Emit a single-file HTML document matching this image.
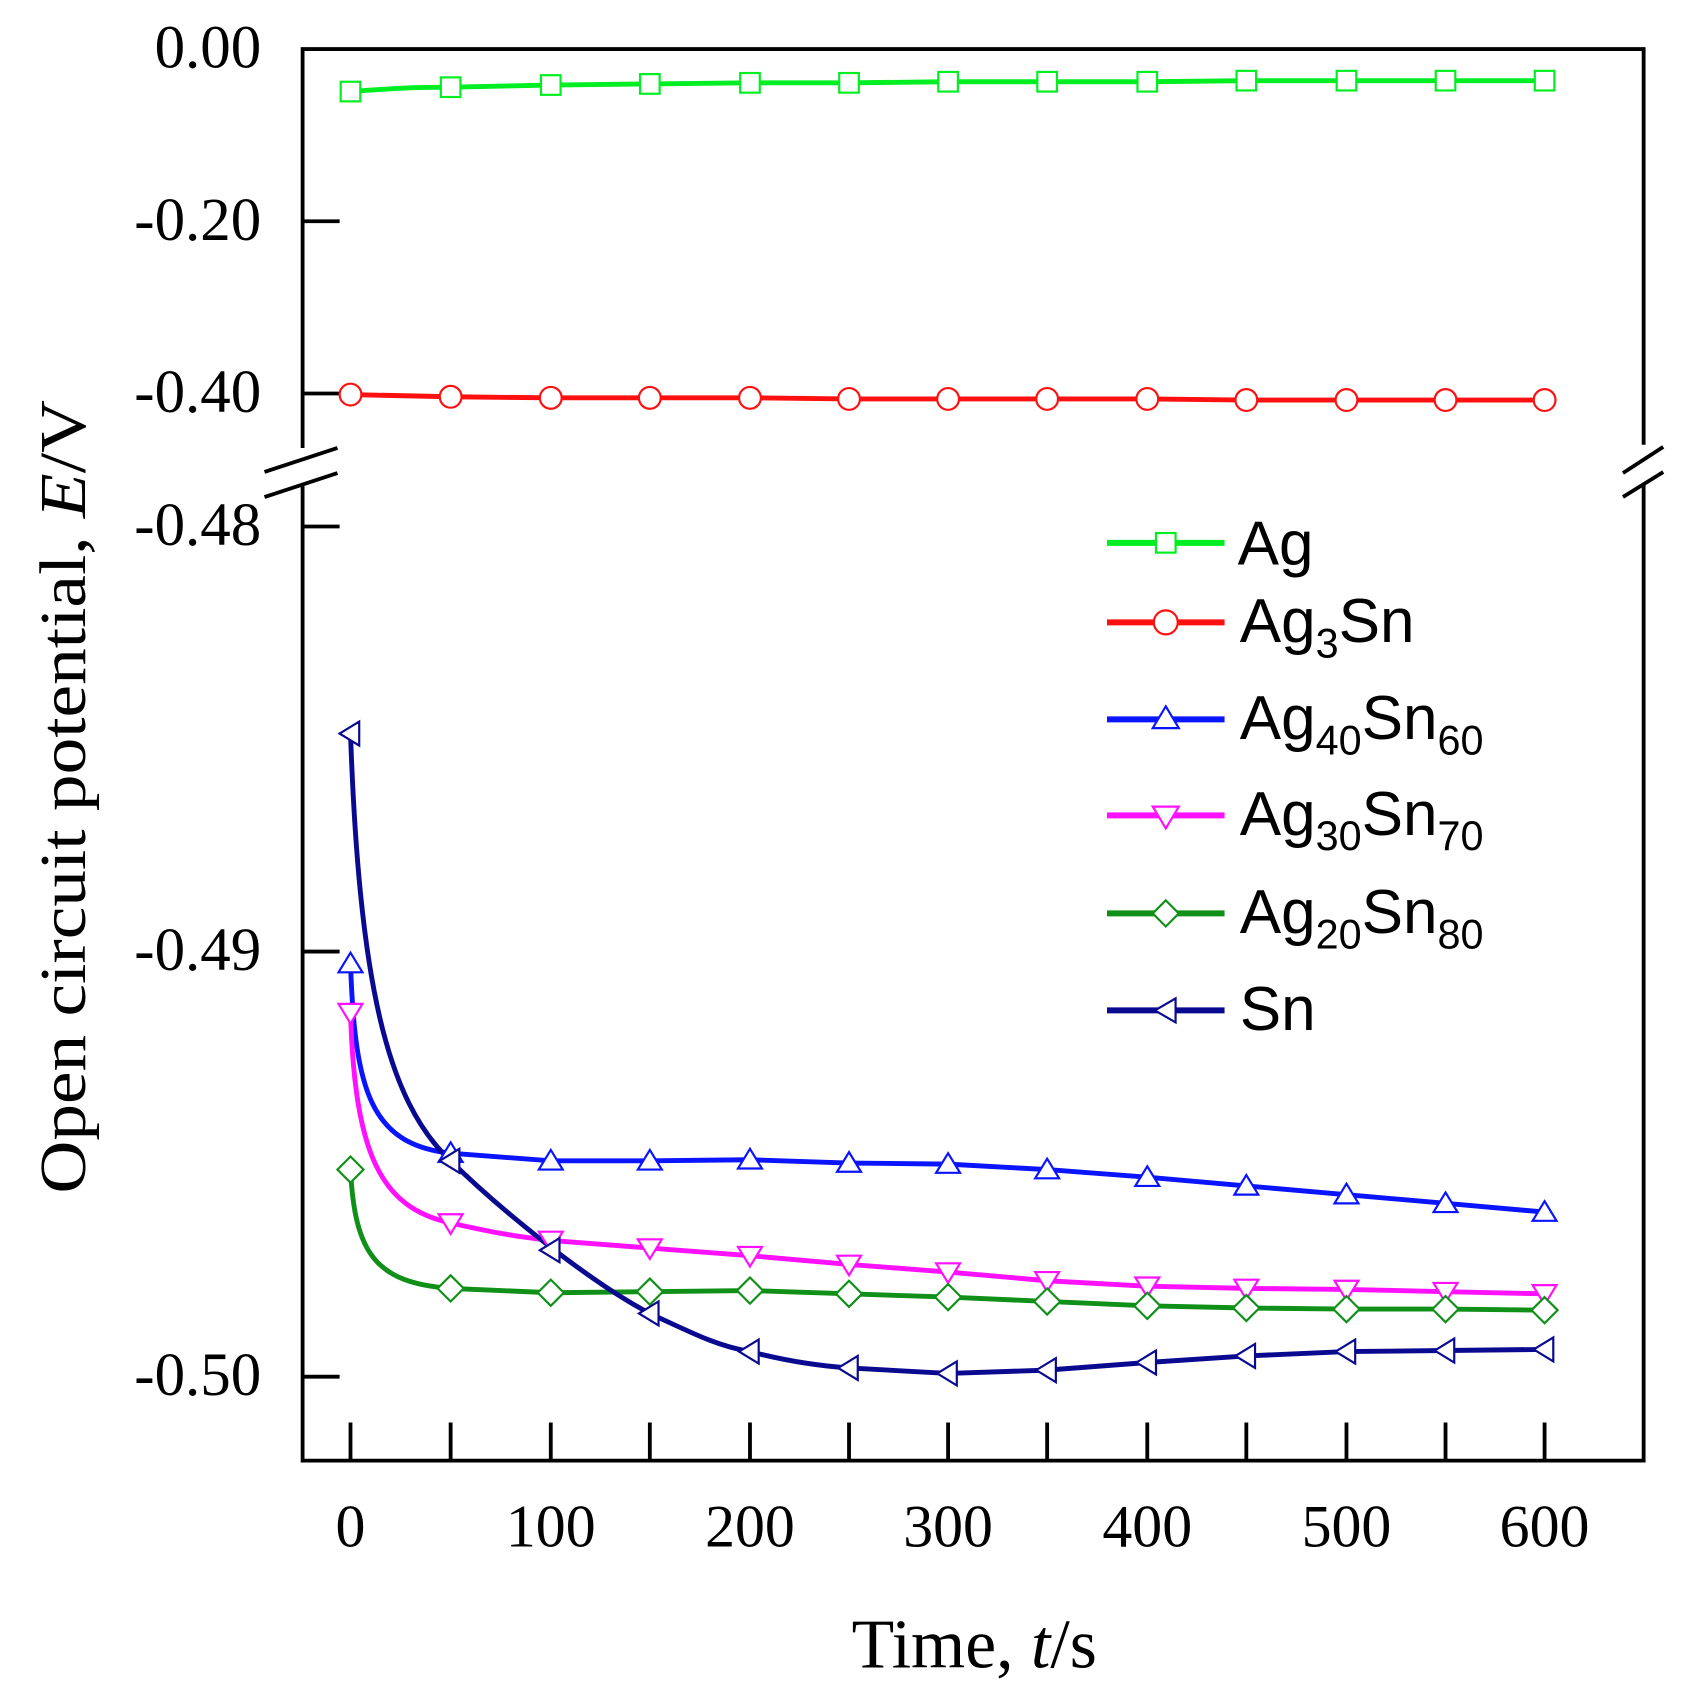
<!DOCTYPE html>
<html><head><meta charset="utf-8"><style>html,body{margin:0;padding:0;background:#fff}svg{display:block}</style></head>
<body>
<svg width="1683" height="1705" viewBox="0 0 1683 1705" xmlns="http://www.w3.org/2000/svg">
<g transform="scale(1.0885,1.09)" font-family="Liberation Serif, serif" fill="none">
<path d="M278,411 V45 H1510 V408 M278,446 V1340 H1510 V444" stroke="#000" stroke-width="3.5"/>
<path d="M243,433 L310,411 M243,456 L310,434 M1491,434 L1528,410 M1491,456 L1528,433" stroke="#000" stroke-width="3.5"/>
<path d="M278,203 h34 M278,361 h34 M278,483 h34 M278,873 h34 M278,1263 h34" stroke="#000" stroke-width="3.5"/>
<path d="M322,1340 v-35 M414,1340 v-35 M506,1340 v-35 M597,1340 v-35 M689,1340 v-35 M780,1340 v-35 M871,1340 v-35 M962,1340 v-35 M1054,1340 v-35 M1145,1340 v-35 M1237,1340 v-35 M1328,1340 v-35 M1419,1340 v-35" stroke="#000" stroke-width="3.5"/>
<g fill="#000" font-size="56" text-anchor="end">
<text x="240" y="62">0.00</text>
<text x="240" y="220">-0.20</text>
<text x="240" y="378">-0.40</text>
<text x="240" y="500">-0.48</text>
<text x="240" y="890">-0.49</text>
<text x="240" y="1280">-0.50</text>
</g>
<g fill="#000" font-size="55" text-anchor="middle">
<text x="322" y="1419">0</text>
<text x="506" y="1419">100</text>
<text x="689" y="1419">200</text>
<text x="871" y="1419">300</text>
<text x="1054" y="1419">400</text>
<text x="1237" y="1419">500</text>
<text x="1419" y="1419">600</text>
</g>
<text x="895" y="1530" fill="#000" font-size="64" text-anchor="middle">Time, <tspan font-style="italic">t</tspan>/s</text>
<text transform="translate(78,731) rotate(-90)" fill="#000" font-size="60" text-anchor="middle" textLength="728" lengthAdjust="spacingAndGlyphs">Open circuit potential, <tspan font-style="italic">E</tspan>/V</text>

<g stroke-width="4.5">
<path stroke="#00ee22" d="M322,84 C360,81 380,80 414,80 L506,78 597,77 689,76 780,76 871,75 962,75 1054,75 1145,74 1237,74 1328,74 1419,74"/>
<path stroke="#ff1010" d="M322,362 L414,364 506,365 597,365 689,365 780,366 871,366 962,366 1054,366 1145,367 1237,367 1328,367 1419,367"/>
<path stroke="#0a14ff" d="M322,884 C326,1000 340,1050 414,1058 L506,1065 597,1065 689,1064 780,1067 871,1068 962,1073 1054,1080 1145,1088 1237,1096 1328,1104 1419,1112"/>
<path stroke="#ff10ff" d="M322,929 C326,1060 350,1108 414,1122 C450,1130 470,1134 506,1138 L597,1145 689,1152 780,1160 871,1167 962,1175 1054,1180 1145,1182 1237,1183 1328,1185 1419,1187"/>
<path stroke="#109018" d="M322,1073 C326,1150 345,1177 414,1182 L506,1186 597,1185 689,1184 780,1187 871,1190 962,1194 1054,1198 1145,1200 1237,1201 1328,1201 1419,1202"/>
<path stroke="#0a0a90" d="M322,673 C330,900 355,1010 414,1065 C460,1110 540,1175 597,1205 C640,1225 660,1235 689,1240 C720,1248 750,1253 780,1255 L871,1260 962,1257 1054,1250 1145,1244 1237,1240 1328,1239 1419,1238"/>
</g>
<g fill="#fff" stroke-width="2">
<g stroke="#00ee22">
<rect x="313" y="75" width="18" height="18"/><rect x="405" y="71" width="18" height="18"/><rect x="497" y="69" width="18" height="18"/><rect x="588" y="68" width="18" height="18"/><rect x="680" y="67" width="18" height="18"/><rect x="771" y="67" width="18" height="18"/><rect x="862" y="66" width="18" height="18"/><rect x="953" y="66" width="18" height="18"/><rect x="1045" y="66" width="18" height="18"/><rect x="1136" y="65" width="18" height="18"/><rect x="1228" y="65" width="18" height="18"/><rect x="1319" y="65" width="18" height="18"/><rect x="1410" y="65" width="18" height="18"/>
</g>
<g stroke="#ff1010">
<circle cx="322" cy="362" r="10"/><circle cx="414" cy="364" r="10"/><circle cx="506" cy="365" r="10"/><circle cx="597" cy="365" r="10"/><circle cx="689" cy="365" r="10"/><circle cx="780" cy="366" r="10"/><circle cx="871" cy="366" r="10"/><circle cx="962" cy="366" r="10"/><circle cx="1054" cy="366" r="10"/><circle cx="1145" cy="367" r="10"/><circle cx="1237" cy="367" r="10"/><circle cx="1328" cy="367" r="10"/><circle cx="1419" cy="367" r="10"/>
</g>
<g stroke="#0a14ff">
<path d="M322,874 l11,18 h-22z M414,1048 l11,18 h-22z M506,1055 l11,18 h-22z M597,1055 l11,18 h-22z M689,1054 l11,18 h-22z M780,1057 l11,18 h-22z M871,1058 l11,18 h-22z M962,1063 l11,18 h-22z M1054,1070 l11,18 h-22z M1145,1078 l11,18 h-22z M1237,1086 l11,18 h-22z M1328,1094 l11,18 h-22z M1419,1102 l11,18 h-22z"/>
</g>
<g stroke="#ff10ff">
<path d="M322,939 l11,-18 h-22z M414,1132 l11,-18 h-22z M506,1148 l11,-18 h-22z M597,1155 l11,-18 h-22z M689,1162 l11,-18 h-22z M780,1170 l11,-18 h-22z M871,1177 l11,-18 h-22z M962,1185 l11,-18 h-22z M1054,1190 l11,-18 h-22z M1145,1192 l11,-18 h-22z M1237,1193 l11,-18 h-22z M1328,1195 l11,-18 h-22z M1419,1197 l11,-18 h-22z"/>
</g>
<g stroke="#109018">
<path d="M322,1061 l12,12 l-12,12 l-12,-12z M414,1170 l12,12 l-12,12 l-12,-12z M506,1174 l12,12 l-12,12 l-12,-12z M597,1173 l12,12 l-12,12 l-12,-12z M689,1172 l12,12 l-12,12 l-12,-12z M780,1175 l12,12 l-12,12 l-12,-12z M871,1178 l12,12 l-12,12 l-12,-12z M962,1182 l12,12 l-12,12 l-12,-12z M1054,1186 l12,12 l-12,12 l-12,-12z M1145,1188 l12,12 l-12,12 l-12,-12z M1237,1189 l12,12 l-12,12 l-12,-12z M1328,1189 l12,12 l-12,12 l-12,-12z M1419,1190 l12,12 l-12,12 l-12,-12z"/>
</g>
<g stroke="#0a0a90">
<path d="M312,673 l18,-11 v22z M404,1065 l18,-11 v22z M496,1147 l18,-11 v22z M587,1205 l18,-11 v22z M679,1240 l18,-11 v22z M770,1255 l18,-11 v22z M861,1260 l18,-11 v22z M952,1257 l18,-11 v22z M1044,1250 l18,-11 v22z M1135,1244 l18,-11 v22z M1227,1240 l18,-11 v22z M1318,1239 l18,-11 v22z M1409,1238 l18,-11 v22z"/>
</g>
</g>
<g stroke-width="5.5">
<path stroke="#00ee22" d="M1017,498 H1125"/>
<path stroke="#ff1010" d="M1017,571 H1125"/>
<path stroke="#0a14ff" d="M1017,660 H1125"/>
<path stroke="#ff10ff" d="M1017,748 H1125"/>
<path stroke="#109018" d="M1017,838 H1125"/>
<path stroke="#0a0a90" d="M1017,927 H1125"/>
</g>
<g fill="#fff" stroke-width="2">
<rect x="1062" y="489" width="18" height="18" stroke="#00ee22"/>
<circle cx="1071" cy="571" r="11" stroke="#ff1010"/>
<path d="M1071,648 l12,20 h-24z" stroke="#0a14ff"/>
<path d="M1071,760 l12,-20 h-24z" stroke="#ff10ff"/>
<path d="M1071,826 l12,12 l-12,12 l-12,-12z" stroke="#109018"/>
<path d="M1061,927 l19,-11 v22z" stroke="#0a0a90"/>
</g>
<g fill="#000" font-family="Liberation Sans, sans-serif" font-size="57">
<text x="1137" y="518">Ag</text>
<text x="1139" y="589">Ag<tspan font-size="38" dy="14">3</tspan><tspan dy="-14">Sn</tspan></text>
<text x="1139" y="678">Ag<tspan font-size="38" dy="14">40</tspan><tspan dy="-14">Sn</tspan><tspan font-size="38" dy="14">60</tspan></text>
<text x="1139" y="766">Ag<tspan font-size="38" dy="14">30</tspan><tspan dy="-14">Sn</tspan><tspan font-size="38" dy="14">70</tspan></text>
<text x="1139" y="856">Ag<tspan font-size="38" dy="14">20</tspan><tspan dy="-14">Sn</tspan><tspan font-size="38" dy="14">80</tspan></text>
<text x="1139" y="945">Sn</text>
</g>
</g>
</svg>
</body></html>
